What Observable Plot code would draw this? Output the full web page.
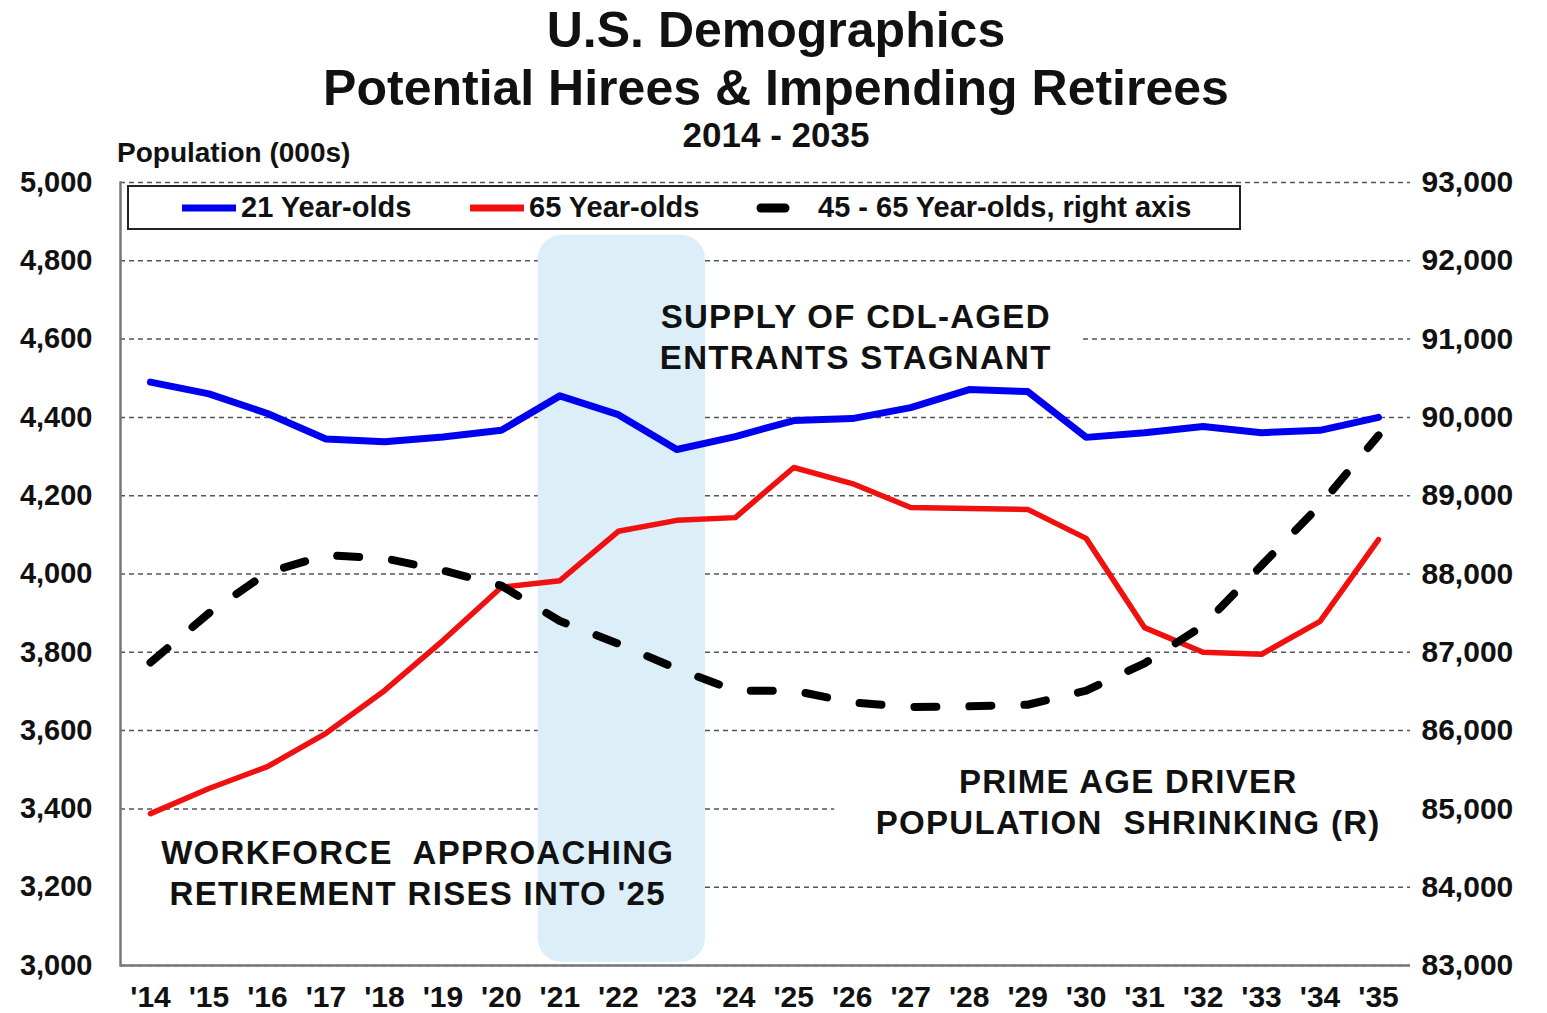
<!DOCTYPE html>
<html>
<head>
<meta charset="utf-8">
<script src="https://cdn.jsdelivr.net/npm/d3@7"></script>
<script src="https://cdn.jsdelivr.net/npm/@observablehq/plot@0.6"></script>
<style>
  html, body { margin: 0; padding: 0; background: #fff; }
  body { font-family: "Liberation Sans", Arial, sans-serif; font-weight: bold; color: #111; }
  #wrap { position: relative; width: 1547px; height: 1013px; overflow: hidden; }
  .tl { position: absolute; left: 0; width: 1552px; text-align: center; white-space: nowrap; }
  #t1 { top: 5px; font-size: 50px; line-height: 50px; }
  #t2 { top: 63px; font-size: 50px; line-height: 50px; }
  #t3 { top: 117px; font-size: 35px; line-height: 35px; }
  #ylab { position: absolute; left: 117px; top: 139px; font-size: 28px; line-height: 28px; white-space: nowrap; }
  #chart { position: absolute; left: 0; top: 140px; }
  #legend { position: absolute; left: 127px; top: 185px; width: 1114px; height: 45px; box-sizing: border-box;
            border: 2px solid #222; background: #fff; }
  .lg { position: absolute; top: 0; height: 41px; display: flex; align-items: center; font-size: 29px; white-space: nowrap; }
  .lg svg { margin-right: 5px; }
  g[aria-label="text"] text { letter-spacing: 1.3px; }
</style>
</head>
<body>
<div id="wrap">
  <div class="tl" id="t1">U.S. Demographics</div>
  <div class="tl" id="t2">Potential Hirees &amp; Impending Retirees</div>
  <div class="tl" id="t3">2014 - 2035</div>
  <div id="chart"></div>
  <div id="ylab">Population (000s)</div>
  <div id="legend"></div>
</div>
<script>
// ---- data ----
const years = [2014, 2015, 2016, 2017, 2018, 2019, 2020, 2021, 2022, 2023, 2024,
               2025, 2026, 2027, 2028, 2029, 2030, 2031, 2032, 2033, 2034, 2035];
const age21 = [4490, 4460, 4410, 4345, 4338, 4350, 4367, 4455, 4407, 4318, 4351,
               4392, 4397, 4425, 4471, 4466, 4349, 4361, 4377, 4361, 4367, 4400];
const age65 = [3388, 3452, 3508, 3593, 3702, 3830, 3966, 3983, 4109, 4137, 4144,
               4272, 4231, 4170, 4167, 4165, 4091, 3863, 3800, 3795, 3879, 4088];
const age45to65 = [86870, 87500, 88020, 88240, 88200, 88045, 87850, 87400, 87110, 86790, 86510,
                   86510, 86360, 86300, 86310, 86330, 86510, 86860, 87340, 88110, 88880, 89770];
const leftTicks = [3000, 3200, 3400, 3600, 3800, 4000, 4200, 4400, 4600, 4800, 5000];
const rightTicks = [83000, 84000, 85000, 86000, 87000, 88000, 89000, 90000, 91000, 92000, 93000];
const seriesNames = ["21 Year-olds", "65 Year-olds", "45 - 65 Year-olds, right axis"];
const notes = [
  {text: "SUPPLY OF CDL-AGED\nENTRANTS STAGNANT", year: 2026.06, value: 4609},
  {text: "PRIME AGE DRIVER\nPOPULATION  SHRINKING (R)", year: 2030.72, value: 3421},
  {text: "WORKFORCE  APPROACHING\nRETIREMENT RISES INTO '25", year: 2018.57, value: 3240}
];
// highlighted period 2021-2023 (shaded band)
const highlight = [{from: 2020.63, to: 2023.49, low: 3008, high: 4865}];
// white boxes behind the annotation texts
const noteBoxes = [
  {from: 2022.2, to: 2029.95, low: 4515, high: 4705},
  {from: 2025.7, to: 2035.55, low: 3300, high: 3500},
  {from: 2013.45, to: 2023.05, low: 3130, high: 3300}
];

// right axis (83,000-93,000) mapped onto left axis (3,000-5,000)
const toLeft = r => 3000 + (r - 83000) * 0.2;
const toRight = l => 83000 + (l - 3000) * 5;

const rows = years.map((y, i) => ({year: y, a21: age21[i], a65: age65[i], a45: toLeft(age45to65[i])}));
const fmt = d3.format(",");

const chart = Plot.plot({
  width: 1547,
  height: 873,
  marginTop: 42,
  marginBottom: 48,
  marginLeft: 120,
  marginRight: 137,
  style: {fontFamily: "'Liberation Sans', Arial, sans-serif", fontWeight: "bold", color: "#111", background: "transparent", overflow: "visible"},
  x: {domain: [2014, 2035], insetLeft: 30, insetRight: 32},
  y: {domain: [3000, 5000]},
  marks: [
    Plot.gridY(leftTicks, {stroke: "#555", strokeOpacity: 1, strokeWidth: 1.5, strokeDasharray: "5,4"}),
    Plot.rect(noteBoxes, {x1: "from", x2: "to", y1: "low", y2: "high", fill: "white"}),
    Plot.rect(highlight, {x1: "from", x2: "to", y1: "low", y2: "high", fill: "#dceef8", rx: 24}),
    Plot.ruleY([3000], {stroke: "#777", strokeWidth: 2.5}),
    Plot.frame({anchor: "left", stroke: "#777", strokeWidth: 2.5}),
    Plot.axisX({ticks: years, tickFormat: d => "'" + String(d).slice(2), tickSize: 0, tickPadding: 20, fontSize: 30, label: null}),
    Plot.axisY({ticks: leftTicks, tickFormat: fmt, tickSize: 0, tickPadding: 28, fontSize: 29, label: null}),
    Plot.axisY({anchor: "right", ticks: rightTicks.map(toLeft), tickFormat: v => fmt(toRight(v)), tickSize: 0, tickPadding: 11, fontSize: 30, label: null}),
    Plot.line(rows, {x: "year", y: "a21", stroke: "#0000f0", strokeWidth: 7}),
    Plot.line(rows, {x: "year", y: "a65", stroke: "#f01010", strokeWidth: 5.5}),
    Plot.line(rows, {x: "year", y: "a45", stroke: "#000", strokeWidth: 8, strokeDasharray: "22,33", strokeLinecap: "round"}),
    Plot.text(notes, {x: "year", y: "value", text: "text", fontSize: 33, lineHeight: 1.25, fill: "#111", fontWeight: "bold"})
  ]
});
document.getElementById("chart").appendChild(chart);

// legend
const legend = document.getElementById("legend");
const items = [
  {name: seriesNames[0], left: 53, swatch: `<svg width="54" height="10"><line x1="0" x2="54" y1="5" y2="5" stroke="#0000f0" stroke-width="7"/></svg>`},
  {name: seriesNames[1], left: 341, swatch: `<svg width="54" height="10"><line x1="0" x2="54" y1="5" y2="5" stroke="#f01010" stroke-width="7"/></svg>`},
  {name: seriesNames[2], left: 626, swatch: `<svg width="58" height="12"><line x1="6" x2="30" y1="6" y2="6" stroke="#000" stroke-width="9" stroke-linecap="round"/></svg>`}
];
for (const it of items) {
  const d = document.createElement("div");
  d.className = "lg";
  d.style.left = it.left + "px";
  d.innerHTML = it.swatch + "<span>" + it.name + "</span>";
  legend.appendChild(d);
}
</script>
</body>
</html>
